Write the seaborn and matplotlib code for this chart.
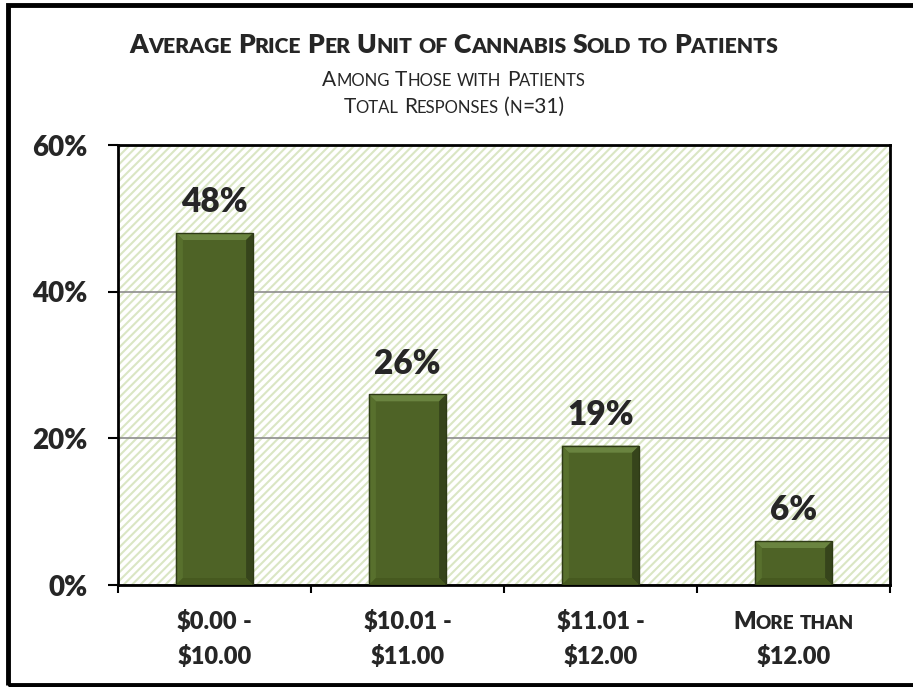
import matplotlib
matplotlib.use("Agg")
import matplotlib.pyplot as plt
import matplotlib.transforms as mtransforms
from matplotlib.patches import Rectangle, Polygon
import seaborn as sns
import pandas as pd

# chart data
categories = ["$0.00 -\n$10.00", "$10.01 -\n$11.00", "$11.01 -\n$12.00", "More than\n$12.00"]
shares = [48, 26, 19, 6]
y_ticks = [0, 20, 40, 60]
title = "Average Price Per Unit of Cannabis Sold to Patients"
subtitle = "Among Those with Patients"
base_note = "Total Responses (n=31)"

BAR_COLOR = "#4E6326"
HATCH_COLOR = "#DAE6C4"
FONT = ["Lato", "DejaVu Sans"]
BOLD = "heavy"


def smallcaps_runs(word):
    # split a word into runs of full caps and small caps
    runs = []
    for ch in word:
        small = ch.islower()
        if runs and runs[-1][1] == small:
            runs[-1][0] += ch.upper()
        else:
            runs.append([ch.upper(), small])
    return runs


def draw_smallcaps(fig, text, x, y, transform, size, weight="normal", ratio=0.8):
    """Draw centered text in small caps, one Text per run."""
    renderer = fig.canvas.get_renderer()

    def make(s, fs):
        return fig.text(x, y, s, transform=transform, fontsize=fs, fontweight=weight,
                        family=FONT, ha="left", va="baseline", parse_math=False)

    def width(t):
        return t.get_window_extent(renderer).width

    p1, p2 = make("A A", size), make("AA", size)
    space = width(p1) - width(p2)
    p1.remove()
    p2.remove()

    pieces = []
    total = 0.0
    for i, word in enumerate(text.split(" ")):
        if i:
            total += space
        for chunk, small in smallcaps_runs(word):
            t = make(chunk, size * ratio if small else size)
            pieces.append((t, total))
            total += width(t)
    for t, off in pieces:
        t.set_transform(mtransforms.offset_copy(transform, fig=fig, x=off - total / 2,
                                                y=0, units="dots"))


def add_bevel(ax, patch, b=7):
    # simple bevel look on a bar, built from the bar's own extent in pixels
    (x0, y0), (x1, y1) = ax.transData.transform(
        [(patch.get_x(), patch.get_y()),
         (patch.get_x() + patch.get_width(), patch.get_y() + patch.get_height())])
    b = min(b, (y1 - y0) / 2.5)
    faces = [
        ([(x0, y1), (x1, y1), (x1 - b, y1 - b), (x0 + b, y1 - b)], "#6A8440"),
        ([(x0, y0), (x0, y1), (x0 + b, y1 - b), (x0 + b, y0 + b)], "#58702D"),
        ([(x1, y0), (x1, y1), (x1 - b, y1 - b), (x1 - b, y0 + b)], "#36441B"),
        ([(x0, y0), (x1, y0), (x1 - b, y0 + b), (x0 + b, y0 + b)], "#46591F"),
    ]
    for pts, col in faces:
        ax.add_artist(Polygon(pts, closed=True, facecolor=col, edgecolor="none",
                              transform=mtransforms.IdentityTransform(), zorder=3))
    ax.add_artist(Rectangle((x0, y0), x1 - x0, y1 - y0, fill=False, edgecolor="#2E3A16",
                            linewidth=1.0, transform=mtransforms.IdentityTransform(), zorder=4))


sns.set_style("white")
plt.rcParams["font.family"] = FONT
plt.rcParams["hatch.color"] = HATCH_COLOR
plt.rcParams["hatch.linewidth"] = 1.5

df = pd.DataFrame({"label": categories, "share": shares})

fig = plt.figure(figsize=(9.13, 6.87), dpi=100)
ax = fig.add_axes([118 / 913, 1 - 585 / 687, (890 - 118) / 913, (585 - 145) / 687])

# hatched plot background
ax.patch.set_facecolor("white")
ax.patch.set_hatch("////")
ax.patch.set_edgecolor(HATCH_COLOR)

sns.barplot(data=df, x="label", y="share", color=BAR_COLOR, width=0.4,
            edgecolor="none", linewidth=0, saturation=1, ax=ax)

ax.set_xlim(-0.5, len(categories) - 0.5)
ax.set_ylim(y_ticks[0], y_ticks[-1])
ax.set_yticks(y_ticks)
ax.set_yticklabels([f"{v}%" for v in y_ticks], fontsize=20, fontweight=BOLD)
ax.tick_params(axis="y", length=7, width=1.5, pad=15, left=True, color="black")
ax.set_xticks(range(len(categories)))
ax.set_xticklabels([])
ax.tick_params(axis="x", which="major", length=0)
ax.set_xticks([i - 0.5 for i in range(len(categories) + 1)], minor=True)
ax.tick_params(axis="x", which="minor", length=6, width=1.5, bottom=True, color="black")
ax.set_xlabel("")
ax.set_ylabel("")

ax.set_axisbelow(True)
ax.yaxis.grid(True, color="#8C8C8C", linewidth=1.2)
for side in ["left", "right", "top", "bottom"]:
    ax.spines[side].set_visible(True)
    ax.spines[side].set_color("black")
    ax.spines[side].set_linewidth(2)

for patch in list(ax.patches):
    add_bevel(ax, patch)

# value labels above bars
for i, v in enumerate(shares):
    ax.annotate(f"{v}%", xy=(i, v), xytext=(0, 15), textcoords="offset points",
                ha="center", va="baseline", fontsize=24, fontweight=BOLD)

# titles in small caps
fig_x = 454 / 913
draw_smallcaps(fig, title, fig_x, 1 - 53 / 687, fig.transFigure, 19, weight=BOLD)
draw_smallcaps(fig, subtitle, fig_x, 1 - 86 / 687, fig.transFigure, 15)
draw_smallcaps(fig, base_note, fig_x, 1 - 113 / 687, fig.transFigure, 15)

# category labels, two lines each
cat_trans = mtransforms.blended_transform_factory(ax.transData, fig.transFigure)
for i, label in enumerate(categories):
    for j, line in enumerate(label.split("\n")):
        draw_smallcaps(fig, line, i, 1 - (629 + 35 * j) / 687, cat_trans, 17, weight=BOLD)

# outer frame
fig.add_artist(Rectangle((7.5 / 913, 2 / 687), 1.0, 1 - 6.5 / 687, transform=fig.transFigure,
                         fill=False, edgecolor="black", linewidth=3.5, clip_on=False))

fig.savefig("out.png", dpi=100)
